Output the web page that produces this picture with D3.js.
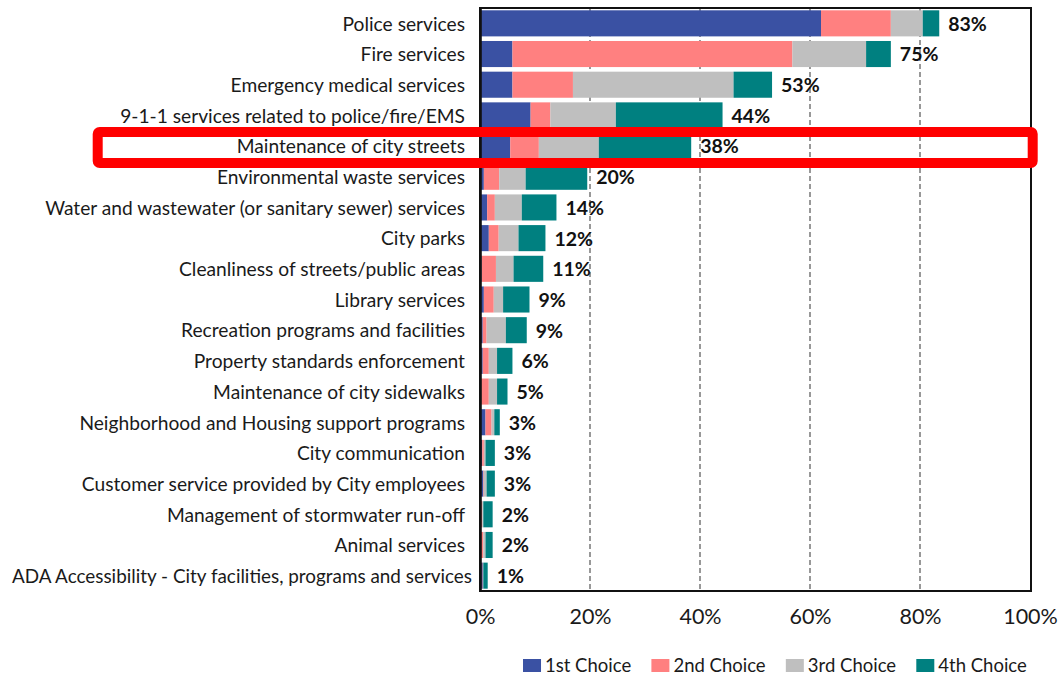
<!DOCTYPE html>
<html>
<head>
<meta charset="utf-8">
<script src="https://cdn.jsdelivr.net/npm/d3@7"></script>
<style>
  html, body { margin: 0; padding: 0; background: #fff; }
  svg { display: block; }
</style>
</head>
<body>
<svg id="chart" width="1063" height="675"></svg>
<script>
const categories = [
  "Police services",
  "Fire services",
  "Emergency medical services",
  "9-1-1 services related to police/fire/EMS",
  "Maintenance of city streets",
  "Environmental waste services",
  "Water and wastewater (or sanitary sewer) services",
  "City parks",
  "Cleanliness of streets/public areas",
  "Library services",
  "Recreation programs and facilities",
  "Property standards enforcement",
  "Maintenance of city sidewalks",
  "Neighborhood and Housing support programs",
  "City communication",
  "Customer service provided by City employees",
  "Management of stormwater run-off",
  "Animal services",
  "ADA Accessibility - City facilities, programs and services"
];
const firstChoice  = [62.0, 5.9, 5.9, 9.2, 5.5, 0.7, 1.3, 1.6, 0.3, 0.7, 0.5, 0.5, 0.1, 1.0, 0.4, 0.6, 0.1, 0.1, 0.5];
const secondChoice = [12.7, 50.9, 11.0, 3.6, 5.2, 2.8, 1.4, 1.8, 2.6, 1.8, 0.7, 1.1, 1.5, 1.1, 0.3, 0.1, 0.3, 0.5, 0.05];
const thirdChoice  = [5.8, 13.4, 29.2, 11.9, 10.9, 4.8, 4.9, 3.6, 3.2, 1.7, 3.5, 1.5, 1.5, 0.5, 0.3, 0.5, 0.2, 0.4, 0.05];
const fourthChoice = [3.0, 4.5, 7.0, 19.4, 16.8, 11.2, 6.3, 4.9, 5.4, 4.8, 3.8, 2.8, 1.9, 1.0, 1.7, 1.5, 1.7, 1.3, 0.8];
const totalLabels  = ["83%","75%","53%","44%","38%","20%","14%","12%","11%","9%","9%","6%","5%","3%","3%","3%","2%","2%","1%"];
const seriesNames  = ["1st Choice", "2nd Choice", "3rd Choice", "4th Choice"];
const seriesColors = ["#3A51A3", "#FF8080", "#BFBFBF", "#008080"];
const xTicks = [0, 20, 40, 60, 80, 100];
const highlighted = "Maintenance of city streets";

const svg = d3.select("#chart");
const FONT = "Lato, 'Open Sans', sans-serif";

const plotLeft = 480, plotRight = 1030, plotTop = 8, plotBottom = 591;

const x = d3.scaleLinear().domain([0, 100]).range([plotLeft, plotRight]);
const y = d3.scaleBand().domain(categories).range([plotTop, plotBottom]).paddingInner(0.15).paddingOuter(0.075);

const rows = categories.map((c, i) => ({
  cat: c, "1st Choice": firstChoice[i], "2nd Choice": secondChoice[i],
  "3rd Choice": thirdChoice[i], "4th Choice": fourthChoice[i], label: totalLabels[i]
}));
const stacked = d3.stack().keys(seriesNames)(rows);

// gridlines
svg.append("g").selectAll("line")
  .data(xTicks.filter(t => t > 0 && t < 100))
  .join("line")
  .attr("x1", d => x(d)).attr("x2", d => x(d))
  .attr("y1", plotTop).attr("y2", plotBottom)
  .attr("stroke", "#7f7f7f").attr("stroke-width", 1.6)
  .attr("stroke-dasharray", "5,3");

// bars
svg.append("g").selectAll("g")
  .data(stacked)
  .join("g")
  .attr("fill", (d, i) => seriesColors[i])
  .selectAll("rect")
  .data(d => d)
  .join("rect")
  .attr("x", d => x(d[0]))
  .attr("width", d => Math.max(0, x(d[1]) - x(d[0])))
  .attr("y", d => y(d.data.cat))
  .attr("height", y.bandwidth());

// value labels
svg.append("g").selectAll("text")
  .data(rows)
  .join("text")
  .attr("x", d => x(d["1st Choice"] + d["2nd Choice"] + d["3rd Choice"] + d["4th Choice"]) + 9)
  .attr("y", d => y(d.cat) + y.bandwidth() / 2)
  .attr("dy", "0.38em")
  .attr("font-family", FONT)
  .attr("font-weight", "bold")
  .attr("font-size", "19.5px")
  .attr("fill", "#111")
  .text(d => d.label);

// frame
svg.append("rect")
  .attr("x", plotLeft).attr("y", plotTop)
  .attr("width", plotRight + 1 - plotLeft).attr("height", plotBottom - plotTop)
  .attr("fill", "none").attr("stroke", "#111").attr("stroke-width", 2);

// y axis
const yAxis = d3.axisLeft(y).tickSize(0).tickPadding(15);
const gy = svg.append("g").attr("transform", `translate(${plotLeft},0)`).call(yAxis);
gy.select(".domain").attr("stroke", "#111").attr("stroke-width", 2.6);
gy.selectAll("text")
  .attr("dy", "0.38em")
  .attr("font-family", FONT).attr("font-size", "19.2px").attr("fill", "#1a1a1a");
// the longest label sits a little further right and must fit inside the page
gy.selectAll(".tick text")
  .filter(d => d === categories[categories.length - 1])
  .attr("x", -8)
  .attr("textLength", 460)
  .attr("lengthAdjust", "spacingAndGlyphs");

// x axis
const xAxis = d3.axisBottom(x).tickValues(xTicks).tickSize(0).tickPadding(18).tickFormat(d => d + "%");
const gx = svg.append("g").attr("transform", `translate(0,${plotBottom})`).call(xAxis);
gx.select(".domain").remove();
gx.selectAll("text")
  .attr("font-family", FONT).attr("font-size", "21.5px").attr("fill", "#1a1a1a");

// highlight box
const hy = y(highlighted);
svg.append("rect")
  .attr("x", 97.7).attr("y", hy - 1)
  .attr("width", 1032.7 - 97.7).attr("height", y.bandwidth() + 5)
  .attr("rx", 2).attr("ry", 2)
  .attr("fill", "none").attr("stroke", "#FF0000").attr("stroke-width", 10);

// legend
const legend = svg.append("g");
const items = legend.selectAll("g").data(seriesNames).join("g");
items.append("rect")
  .attr("width", 18).attr("height", 13)
  .attr("y", 659)
  .attr("fill", (d, i) => seriesColors[i]);
items.append("text")
  .attr("x", 22).attr("y", 672)
  .attr("font-family", FONT).attr("font-size", "18.5px").attr("fill", "#1a1a1a")
  .text(d => d);
const widths = [];
items.each(function () { widths.push(this.getBBox().width); });
const gap = 20;
const totalW = d3.sum(widths) + gap * (widths.length - 1);
let cx = 1027 - totalW;
items.each(function (d, i) {
  d3.select(this).attr("transform", `translate(${cx},0)`);
  cx += widths[i] + gap;
});
</script>
</body>
</html>
